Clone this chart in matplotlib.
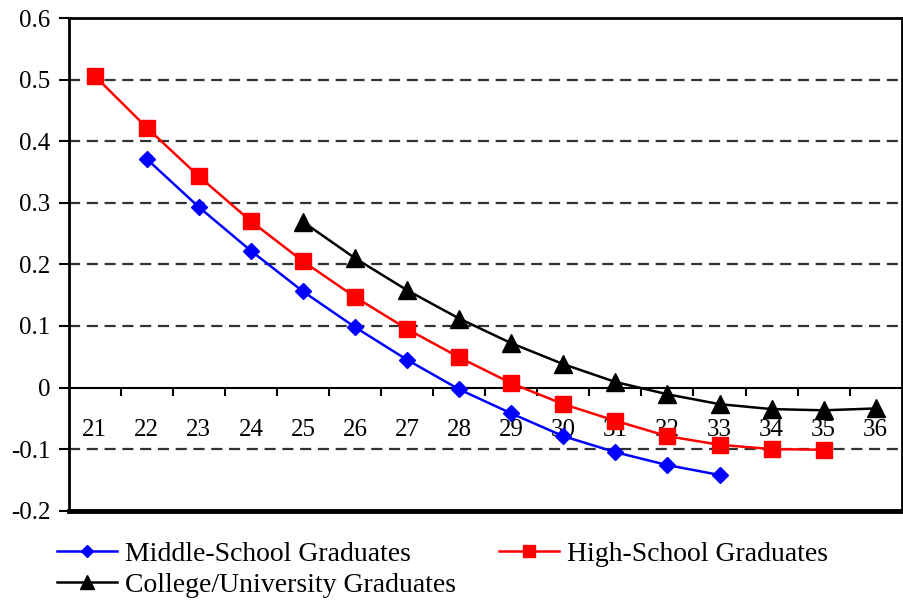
import matplotlib
matplotlib.use("Agg")
import matplotlib.pyplot as plt
import numpy as np

plt.rcParams['font.family'] = ['Liberation Serif', 'DejaVu Serif']

ages = list(range(21, 37))
ms_age = list(range(22, 34))
ms_vals = [0.371, 0.293, 0.222, 0.156, 0.098, 0.045, -0.003, -0.042, -0.079, -0.105, -0.126, -0.142]
hs_age = list(range(21, 36))
hs_vals = [0.506, 0.422, 0.343, 0.270, 0.205, 0.147, 0.095, 0.049, 0.007, -0.027, -0.054, -0.079, -0.093, -0.100, -0.101]
cu_age = list(range(25, 37))
cu_vals = [0.269, 0.210, 0.158, 0.112, 0.072, 0.038, 0.009, -0.011, -0.027, -0.035, -0.037, -0.034]
yticks = [-0.2, -0.1, 0, 0.1, 0.2, 0.3, 0.4, 0.5, 0.6]
ytick_labels = ['-0.2', '-0.1', '0', '0.1', '0.2', '0.3', '0.4', '0.5', '0.6']

fig = plt.figure(figsize=(9.04, 6.02), dpi=100)
ax = fig.add_axes([0.076, 0.1517, 0.9215, 0.8183])

ax.set_xlim(20.5, 36.5)
ax.set_ylim(-0.2, 0.6)

for y in yticks:
    if y in (-0.2, 0, 0.6):
        continue
    ax.axhline(y, color='#333333', lw=1.6, ls=(0, (5, 3)), zorder=1)

l1, = ax.plot(ms_age, ms_vals, color='#0000FF', lw=1.8, marker='D', ms=8.5, zorder=3,
              label='Middle-School Graduates')
l2, = ax.plot(hs_age, hs_vals, color='#FF0000', lw=1.8, marker='s', ms=12, zorder=3,
              label='High-School Graduates')
l3, = ax.plot(cu_age, cu_vals, color='black', lw=1.8, marker='^', ms=12.5, zorder=3,
              label='College/University Graduates')

for s in ['left', 'right', 'top']:
    ax.spines[s].set_linewidth(2)
    ax.spines[s].set_color('black')
ax.spines['bottom'].set_position(('data', 0))
ax.spines['bottom'].set_linewidth(1.5)
ax.axhline(-0.2, color='black', lw=3.5, zorder=4, clip_on=False)

ax.set_yticks(yticks)
ax.set_yticklabels(ytick_labels)
ax.tick_params(axis='y', direction='out', length=7, width=1.5, pad=6, labelsize=18)

ax.set_xticks(ages)
ax.set_xticklabels([str(a) for a in ages])
ax.set_xticks(np.arange(21.5, 36.0, 1.0), minor=True)
ax.tick_params(axis='x', which='major', length=0, pad=23, labelsize=18)
ax.tick_params(axis='x', which='minor', direction='out', length=6, width=1.5)

leg = fig.legend([l1, l3, l2], [l1.get_label(), l3.get_label(), l2.get_label()],
                 ncol=2, loc='upper left', bbox_to_anchor=(0.0627, 0.1005),
                 frameon=False, fontsize=20, handlelength=2.16, handletextpad=0.29,
                 columnspacing=1.55, labelspacing=0.2, borderpad=0, borderaxespad=0,
                 markerscale=0.75)

fig.savefig('out.png', dpi=100)
